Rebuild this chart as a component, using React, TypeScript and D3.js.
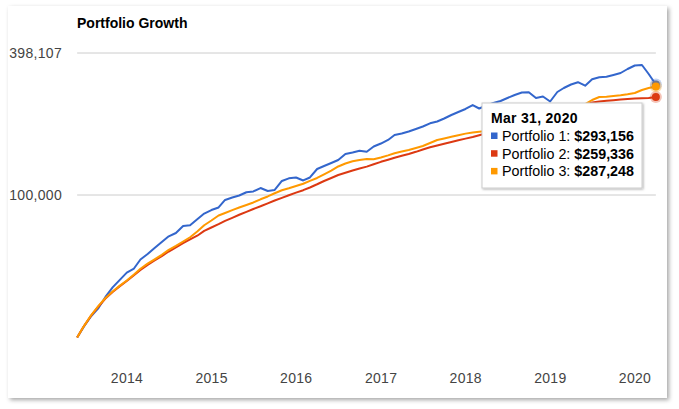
import React from "react";
import * as d3 from "d3";

const START_YEAR = 2013;
const START_MONTH = 4; // May (0-based)
const title = "Portfolio Growth";
const seriesNames = ["Portfolio 1", "Portfolio 2", "Portfolio 3"];
const seriesColors = ["#3366cc", "#dc3912", "#ff9900"];
const yTicks = [100000, 398107];
const xTickYears = [2014, 2015, 2016, 2017, 2018, 2019, 2020];

const portfolio1 = [
  25000, 27900, 30800, 33300, 37100, 40700, 43700, 47000, 48900, 53400,
  56300, 59700, 63300, 66900, 69100, 74000, 74500, 79000, 83500, 86400,
  88600, 95300, 97600, 99500, 102700, 103500, 107000, 104000, 105000, 114600,
  117600, 118600, 115200, 118600, 128800, 132600, 136500, 140600, 149000, 151200,
  153900, 152400, 160300, 165000, 170800, 179300, 181900, 185500, 190000, 194700,
  200900, 204400, 210500, 217800, 224200, 230900, 240000, 232000, 238900, 244800,
  249600, 257000, 264600, 271100, 271600, 257000, 260700, 248400, 272400, 283200,
  293000, 299700, 289600, 308200, 314300, 315800, 321400, 327700, 340700, 352500,
  354200, 324500, 293156,
];

const portfolio2 = [
  25000, 28000, 31000, 33800, 36500, 38900, 41100, 43300, 45800, 48200,
  50600, 52900, 55200, 57700, 60100, 62600, 64900, 67300, 70500, 72900,
  75300, 77700, 80100, 82500, 84900, 87300, 89600, 92200, 94800, 97300,
  99800, 102300, 104800, 107600, 111000, 114600, 118000, 121500, 124200, 127000,
  129500, 131800, 134800, 138100, 141000, 143700, 146400, 149000, 152200, 155700,
  159100, 162000, 164700, 167500, 170300, 173100, 175800, 178800, 182300, 186400,
  190400, 194700, 198900, 203400, 208100, 210500, 213000, 213600, 221000, 227100,
  232500, 237700, 241200, 245900, 248400, 250000, 251500, 253000, 254500, 255700,
  256500, 257200, 259336,
];

const portfolio3 = [
  25000, 28000, 31100, 34000, 36700, 39100, 41300, 43500, 46100, 48800,
  51300, 53500, 55900, 58600, 60900, 63600, 66300, 70100, 74500, 78000,
  81900, 83900, 86300, 88500, 90700, 93000, 95900, 98600, 101700, 104700,
  106800, 109200, 111600, 114800, 118000, 122300, 126700, 132000, 135900, 138800,
  140600, 141900, 141500, 144000, 147100, 150200, 152700, 154900, 158000, 161100,
  165800, 170800, 173300, 176200, 178900, 181700, 183500, 184900, 186400, 189100,
  191900, 195700, 199500, 203400, 206400, 204400, 206400, 202500, 213600, 222100,
  228600, 235400, 242400, 252000, 259500, 260200, 262000, 263800, 266400, 269800,
  277700, 283200, 287248,
];

const tooltipTitle = "Mar 31, 2020";
const tooltipValues = ["$293,156", "$259,336", "$287,248"];

const allSeries = [portfolio1, portfolio2, portfolio3];

const monthEnd = (i: number) =>
  d3.utcDay.offset(d3.utcMonth.offset(new Date(Date.UTC(START_YEAR, START_MONTH, 1)), i + 1), -1);

const dates = portfolio1.map((_, i) => monthEnd(i));

const W = 679;
const H = 409;

export default function App() {
  const x = d3
    .scaleUtc()
    .domain([new Date(Date.UTC(2014, 0, 1)), new Date(Date.UTC(2020, 0, 1))])
    .range([127, 635]);
  const y = d3.scaleLog().domain([100000, 398107]).range([195, 53]);

  const line = d3
    .line<number>()
    .x((_, i) => x(dates[i]))
    .y((v) => y(v));

  const lastIdx = portfolio1.length - 1;
  const lastX = x(dates[lastIdx]);
  const plotLeft = x(dates[0]);
  const plotRight = lastX;

  const font = "Arial, 'Liberation Sans', sans-serif";
  const drawOrder = [0, 1, 2];

  const tipX = 482;
  const tipY = 103;
  const tipW = 160;
  const tipH = 85;

  return (
    <svg
      width={W}
      height={H}
      style={{ position: "absolute", left: 0, top: 0, background: "#ffffff" }}
      fontFamily={font}
    >
      <defs>
        <filter id="cardShadow" x="-5%" y="-5%" width="110%" height="110%">
          <feDropShadow dx="2" dy="2" stdDeviation="2" floodColor="#000" floodOpacity="0.35" />
        </filter>
        <filter id="tipShadow" x="-10%" y="-10%" width="120%" height="130%">
          <feDropShadow dx="1" dy="1" stdDeviation="1.2" floodColor="#000" floodOpacity="0.3" />
        </filter>
      </defs>
      <rect x={8} y={6} width={659} height={392} fill="#ffffff" filter="url(#cardShadow)" />

      <text x={77} y={28} fontSize={14} fontWeight="bold" fill="#000">
        {title}
      </text>

      {yTicks.map((t) => (
        <g key={t}>
          <line x1={plotLeft} x2={plotRight} y1={y(t)} y2={y(t)} stroke="#cccccc" strokeWidth={1} />
          <text x={62} y={y(t) + 5} fontSize={14} fill="#444" textAnchor="end" letterSpacing={0.3}>
            {d3.format(",")(t)}
          </text>
        </g>
      ))}

      {xTickYears.map((yr) => (
        <text
          key={yr}
          x={x(new Date(Date.UTC(yr, 0, 1)))}
          y={383}
          fontSize={14}
          fill="#444"
          textAnchor="middle"
          letterSpacing={0.3}
        >
          {yr}
        </text>
      ))}

      {drawOrder.map((si) => (
        <path
          key={si}
          d={line(allSeries[si]) || ""}
          fill="none"
          stroke={seriesColors[si]}
          strokeWidth={2}
          strokeLinejoin="round"
        />
      ))}

      {drawOrder.map((si) => (
        <g key={"dot" + si}>
          <circle
            cx={lastX}
            cy={y(allSeries[si][lastIdx])}
            r={6}
            fill={seriesColors[si]}
            fillOpacity={0.3}
          />
          <circle cx={lastX} cy={y(allSeries[si][lastIdx])} r={4} fill={seriesColors[si]} />
        </g>
      ))}

      <g>
        <rect
          x={tipX}
          y={tipY}
          width={tipW}
          height={tipH}
          fill="#ffffff"
          stroke="#cccccc"
          strokeWidth={1}
          filter="url(#tipShadow)"
        />
        <text x={tipX + 9} y={tipY + 20} fontSize={14} fontWeight="bold" fill="#000" letterSpacing={0.3}>
          {tooltipTitle}
        </text>
        {seriesNames.map((name, i) => (
          <g key={name}>
            <rect x={tipX + 9} y={tipY + 29.5 + i * 17.7} width={6.5} height={6.5} fill={seriesColors[i]} />
            <text x={tipX + 20} y={tipY + 38 + i * 17.7} fontSize={14.3} fill="#000">
              {name + ": "}
              <tspan fontWeight="bold">{tooltipValues[i]}</tspan>
            </text>
          </g>
        ))}
      </g>
    </svg>
  );
}
